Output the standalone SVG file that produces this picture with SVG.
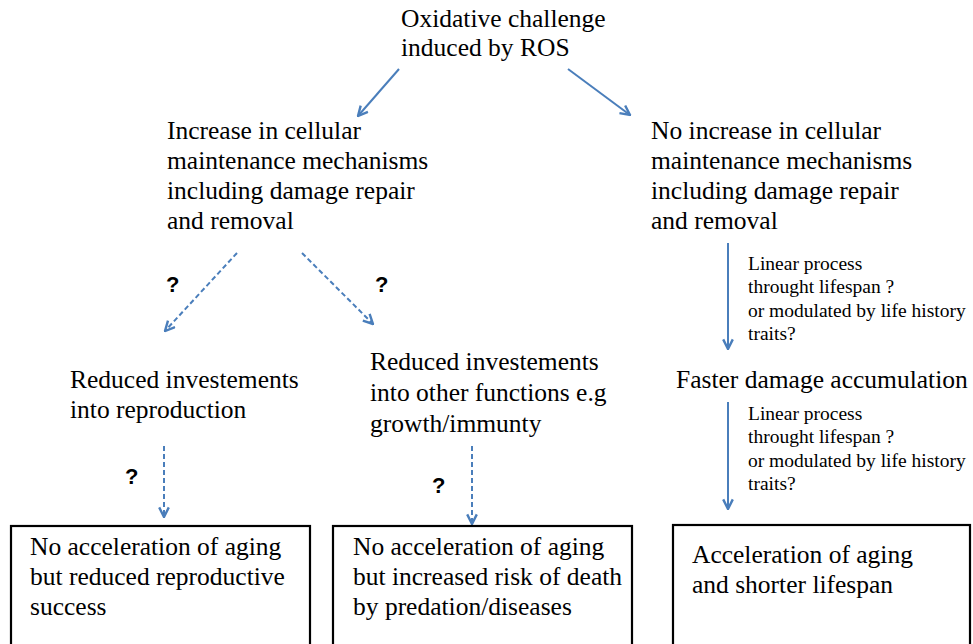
<svg xmlns="http://www.w3.org/2000/svg" width="973" height="644" viewBox="0 0 973 644">
<defs>
<style>
.box{fill:#fff;stroke:#000;stroke-width:2.2}
.c{stroke:#4a7ebb;stroke-width:2;fill:none;marker-end:url(#ah)}
.d{stroke-dasharray:5 3}
</style>
<marker id="ah" viewBox="0 0 10 10" refX="9" refY="5" markerWidth="6" markerHeight="6" orient="auto" markerUnits="strokeWidth">
<path d="M1,1 L9,5 L1,9" fill="none" stroke="#4a7ebb" stroke-width="2"/>
</marker>
</defs>
<rect width="973" height="644" fill="#fff"/>
<g id="connectors">
<line class="c" x1="399" y1="69" x2="358" y2="116"/>
<line class="c" x1="568" y1="69" x2="630" y2="115"/>
<line class="c d" x1="237" y1="253" x2="165" y2="331"/>
<line class="c d" x1="302" y1="253" x2="373" y2="324"/>
<line class="c d" x1="164" y1="446" x2="164" y2="517"/>
<line class="c d" x1="472" y1="446" x2="472" y2="524"/>
<line class="c" x1="728" y1="243" x2="728" y2="349"/>
<line class="c" x1="728" y1="402" x2="728" y2="509"/>
</g>
<g id="labels">
<text x="166" y="292" font-family="Liberation Sans" font-size="22" font-weight="bold">?</text>
<text x="375" y="292" font-family="Liberation Sans" font-size="22" font-weight="bold">?</text>
<text x="125" y="484" font-family="Liberation Sans" font-size="22" font-weight="bold">?</text>
<text x="432" y="493" font-family="Liberation Sans" font-size="22" font-weight="bold">?</text>
<text x="748" y="270" font-family="Liberation Serif" font-size="19.5">Linear process</text>
<text x="748" y="293" font-family="Liberation Serif" font-size="19.5">throught lifespan ?</text>
<text x="748" y="317" font-family="Liberation Serif" font-size="19.5">or modulated by life history</text>
<text x="748" y="340" font-family="Liberation Serif" font-size="19.5">traits?</text>
<text x="748" y="420" font-family="Liberation Serif" font-size="19.5">Linear process</text>
<text x="748" y="443" font-family="Liberation Serif" font-size="19.5">throught lifespan ?</text>
<text x="748" y="467" font-family="Liberation Serif" font-size="19.5">or modulated by life history</text>
<text x="748" y="490" font-family="Liberation Serif" font-size="19.5">traits?</text>
</g>
<g id="root">
<text x="401" y="27" font-family="Liberation Serif" font-size="25.5">Oxidative challenge</text>
<text x="401" y="56" font-family="Liberation Serif" font-size="25.5">induced by ROS</text>
</g>
<g id="increase">
<text x="167" y="139" font-family="Liberation Serif" font-size="25.5">Increase in cellular</text>
<text x="167" y="169" font-family="Liberation Serif" font-size="25.5">maintenance mechanisms</text>
<text x="167" y="199" font-family="Liberation Serif" font-size="25.5">including damage repair</text>
<text x="167" y="229" font-family="Liberation Serif" font-size="25.5">and removal</text>
</g>
<g id="noincrease">
<text x="651" y="139" font-family="Liberation Serif" font-size="25.5">No increase in cellular</text>
<text x="651" y="169" font-family="Liberation Serif" font-size="25.5">maintenance mechanisms</text>
<text x="651" y="199" font-family="Liberation Serif" font-size="25.5">including damage repair</text>
<text x="651" y="229" font-family="Liberation Serif" font-size="25.5">and removal</text>
</g>
<g id="reproduction">
<text x="70" y="388" font-family="Liberation Serif" font-size="25.5">Reduced investements</text>
<text x="70" y="418" font-family="Liberation Serif" font-size="25.5">into reproduction</text>
</g>
<g id="otherfunctions">
<text x="370" y="370" font-family="Liberation Serif" font-size="25.5">Reduced investements</text>
<text x="370" y="401" font-family="Liberation Serif" font-size="25.5">into other functions e.g</text>
<text x="370" y="432" font-family="Liberation Serif" font-size="25.5">growth/immunty</text>
</g>
<g id="damage">
<text x="676" y="388" font-family="Liberation Serif" font-size="25.5">Faster damage accumulation</text>
</g>
<g id="box1">
<rect class="box" x="11" y="526" width="299" height="130"/>
<text x="30" y="555" font-family="Liberation Serif" font-size="25.5">No acceleration of aging</text>
<text x="30" y="585" font-family="Liberation Serif" font-size="25.5">but reduced reproductive</text>
<text x="30" y="615" font-family="Liberation Serif" font-size="25.5">success</text>
</g>
<g id="box2">
<rect class="box" x="333" y="526" width="299" height="130"/>
<text x="353" y="555" font-family="Liberation Serif" font-size="25.5">No acceleration of aging</text>
<text x="353" y="585" font-family="Liberation Serif" font-size="25.5">but increased risk of death</text>
<text x="353" y="615" font-family="Liberation Serif" font-size="25.5">by predation/diseases</text>
</g>
<g id="box3">
<rect class="box" x="673" y="525" width="297" height="130"/>
<text x="692" y="563" font-family="Liberation Serif" font-size="25.5">Acceleration of aging</text>
<text x="692" y="593" font-family="Liberation Serif" font-size="25.5">and shorter lifespan</text>
</g>
</svg>
